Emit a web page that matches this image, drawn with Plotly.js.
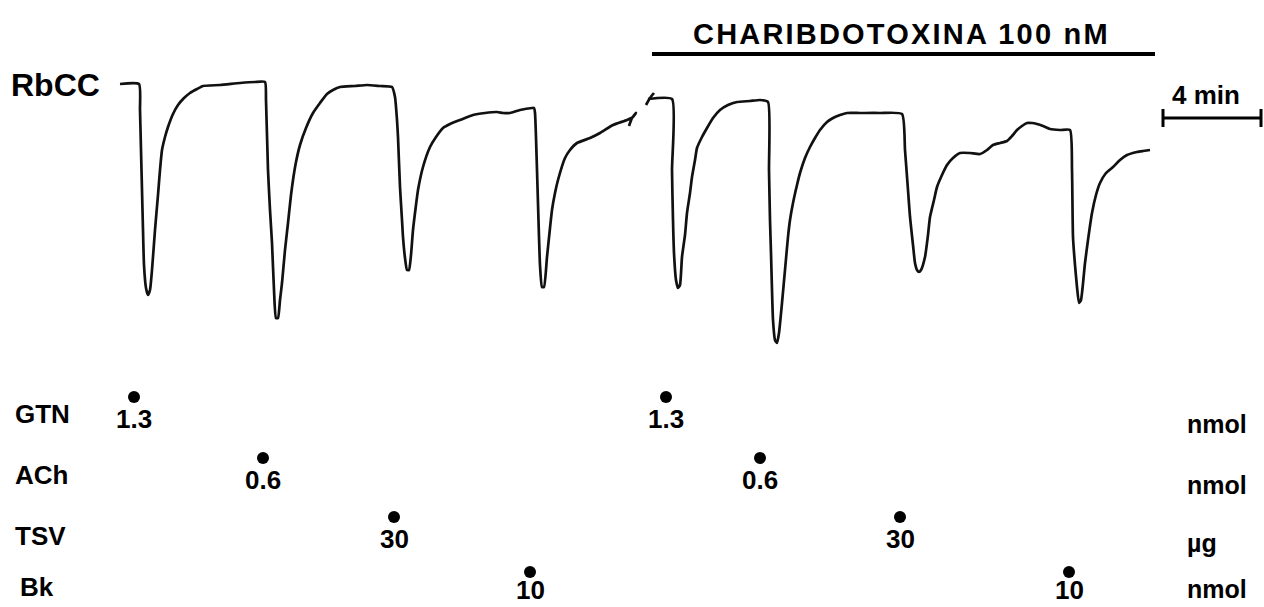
<!DOCTYPE html>
<html><head><meta charset="utf-8">
<script src="https://cdn.plot.ly/plotly-3.0.1.min.js"></script>
<style>html,body{margin:0;padding:0;background:#fff;overflow:hidden}</style>
</head><body><div id="chart" style="width:1264px;height:607px"></div>
<script>
// Chart-paper units: x = recording time (25 units = 1 min), y = pen position from top of paper.
var unitsPerMin = 25;
var scaleBarMin = 4;

// Control recording (before charybdotoxin)
var recA_t = [120,139,140,141,142,143,144,146,148,150,152,155,158,160,162,165,168,173,178,184,190,197,203,220,240,255,265,
  266,268,270,272,274,276,278,280,282,285,288,291,293,296,300,306,313,320,327,333,340,355,367,380,392,
  395,397,398,400,402,403,405,407,409,411,413,416,418,423,430,436,443,450,460,473,485,497,503,510,520,532,534,
  535,537,539,540,542,544,547,550,552,555,558,565,570,577,590,600,613,627,633,636,632,629];
var recA_v = [84,84,110,150,190,230,265,288,295,290,270,230,195,170,150,137,127,114,105,98,93,89,86,85,83,82,82,
  100,170,210,243,290,318,318,300,283,250,223,195,180,162,145,128,113,103,94,90,87,86,85,86,87,
  97,120,137,187,220,237,258,270,270,255,230,205,190,167,147,137,128,124,120,115,113,112,113,113,110,108,108,
  113,170,237,265,287,287,257,228,210,193,180,158,150,143,138,133,125,120,117,113,118,126];

// Recording in presence of charybdotoxin 100 nM
var recB_t = [646,650,654,null,
  648,672,672,673,674,676,678,680,682,685,687,690,692,695,697,702,707,713,720,728,737,750,760,768,
  769,770,771,772,773,775,777,779,782,785,788,790,793,797,800,805,810,815,820,827,833,840,847,860,880,902,
  905,908,910,913,915,917,919,921,925,928,930,934,937,942,947,953,960,970,980,987,993,1000,1007,1012,1017,1022,1027,1032,1037,1043,1050,1060,1070,
  1072,1073,1075,1077,1079,1081,1085,1088,1092,1096,1100,1106,1113,1120,1127,1137,1143,1150];
var recB_v = [105,98,93,null,
  99,99,170,220,253,280,288,285,257,235,213,193,177,160,148,137,128,118,110,105,102,101,100,102,
  170,220,253,290,320,340,343,333,303,270,237,220,203,185,173,158,147,138,130,122,118,115,113,113,113,114,
  150,190,217,245,263,270,272,270,257,235,217,200,187,175,165,158,153,153,154,150,145,143,141,136,130,126,123,123,124,126,129,130,130,
  170,237,265,287,303,300,263,240,213,195,183,173,167,160,155,152,151,150];

// Drug administrations
var agents = ['GTN','ACh','TSV','Bk'];
var doses = ['1.3','0.6','30','10'];
var units = ['nmol','nmol','\u00b5g','nmol'];
var doseTimeControl = [134,263,394,530];
var doseTimeCtx = [666,760,900,1069];

// ---- layout constants (pixel positions) ----
var FONT = 'Liberation Sans, Arial, Helvetica, sans-serif';
var rowDotY = [397,458,517,572];
var rowNumY = [419,480,539,590];
var rowLabelY = [414,475,536,587];
var rowUnitY = [424,485,543,589];

var lineStyle = {color:'#111', width:2.7, shape:'spline', smoothing:0.5};
var traces = [
  {x: recA_t, y: recA_v, mode:'lines', line:lineStyle, connectgaps:false, hoverinfo:'skip'},
  {x: recB_t, y: recB_v, mode:'lines', line:lineStyle, connectgaps:false, hoverinfo:'skip'}
];
var dotX = [], dotY = [];
var ann = [];
function txt(x, y, s, size, xanchor) {
  ann.push({x:x, y:y, xref:'x', yref:'y', text:s, showarrow:false, xanchor:xanchor||'left', yanchor:'middle',
    borderpad:0, font:{family:FONT, size:size, color:'#000', weight:'bold'}});
}
for (var i = 0; i < agents.length; i++) {
  dotX.push(doseTimeControl[i], doseTimeCtx[i]);
  dotY.push(rowDotY[i], rowDotY[i]);
  txt(doseTimeControl[i], rowNumY[i], doses[i], 26, 'center');
  txt(doseTimeCtx[i], rowNumY[i], doses[i], 26, 'center');
  txt(i === 3 ? 19 : 14, rowLabelY[i], agents[i], 26, 'left');
  txt(1186, rowUnitY[i], units[i], 25, 'left');
}
traces.push({x: dotX, y: dotY, mode:'markers', marker:{color:'#000', size:12}, hoverinfo:'skip'});

txt(10, 85, 'RbCC', 32, 'left');
txt(692, 34, '<span style="letter-spacing:2.2px">CHARIBDOTOXINA 100 nM</span>', 29, 'left');
txt(1206, 95, '4 min', 26, 'center');

var barX0 = 1162, barY = 118;
var barX1 = barX0 + scaleBarMin * unitsPerMin;
var shapes = [
  {type:'line', xref:'x', yref:'y', x0:652, x1:1155, y0:54, y1:54, line:{color:'#000', width:4}},
  {type:'line', xref:'x', yref:'y', x0:barX0, x1:barX1, y0:barY, y1:barY, line:{color:'#000', width:3}},
  {type:'line', xref:'x', yref:'y', x0:barX0+1, x1:barX0+1, y0:barY-9, y1:barY+9, line:{color:'#000', width:3}},
  {type:'line', xref:'x', yref:'y', x0:barX1-1, x1:barX1-1, y0:barY-9, y1:barY+9, line:{color:'#000', width:3}}
];

var layout = {
  width:1264, height:607, margin:{l:0,r:0,t:0,b:0,pad:0},
  paper_bgcolor:'#fff', plot_bgcolor:'#fff', showlegend:false,
  xaxis:{range:[0,1264], visible:false, fixedrange:true},
  yaxis:{range:[607,0], visible:false, fixedrange:true},
  annotations: ann, shapes: shapes
};
Plotly.newPlot('chart', traces, layout, {staticPlot:true, displayModeBar:false});
</script></body></html>
